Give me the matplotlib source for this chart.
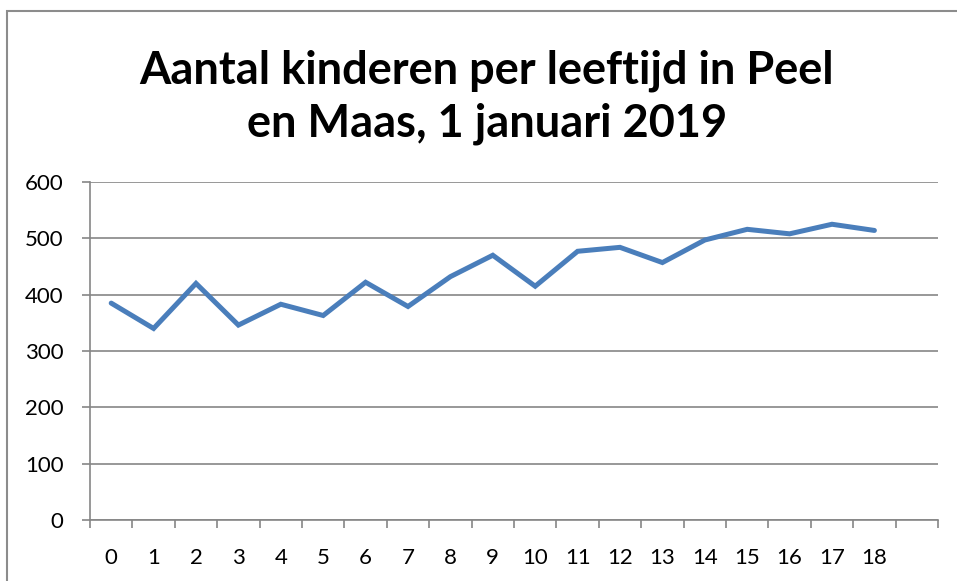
import matplotlib.pyplot as plt
from matplotlib.patches import Rectangle
from matplotlib.ticker import FixedLocator, NullFormatter

# leeftijden (categorieen); de laatste categorie is leeg in het origineel
age_labels = ["0", "1", "2", "3", "4", "5", "6", "7", "8", "9",
              "10", "11", "12", "13", "14", "15", "16", "17", "18", ""]
kinderen = [385, 340, 420, 346, 383, 363, 422, 379, 432, 470,
            415, 477, 484, 457, 497, 516, 508, 525, 514]
y_ticks = [0, 100, 200, 300, 400, 500, 600]

title = "Aantal kinderen per leeftijd in Peel\nen Maas, 1 januari 2019"

line_color = "#4A7EBB"
grid_color = "#868686"
font = ["Lato", "DejaVu Sans"]

fig = plt.figure(figsize=(9.57, 5.81), dpi=100)
W, H = 957, 581
ax = fig.add_axes([90 / W, 1 - 520 / H, 848 / W, 338 / H])

# chart frame (extends past right and bottom edge of the image)
fig.patches.append(Rectangle((7 / W, -0.05), 1.0, 1 - 11 / H + 0.05,
                             transform=fig.transFigure, fill=False,
                             edgecolor="#8C8C8C", linewidth=1.5))

n_slots = len(age_labels)
centers = [i + 0.5 for i in range(len(kinderen))]
ax.plot(centers, kinderen, color=line_color, linewidth=3.6,
        solid_joinstyle="miter", solid_capstyle="round", zorder=3)

ax.set_xlim(0, n_slots)
ax.set_ylim(0, 600)

# y axis + gridlines
ax.set_yticks(y_ticks)
ax.set_yticklabels([str(v) for v in y_ticks], fontsize=16, family=font)
ax.yaxis.grid(True, color=grid_color, linewidth=1.2)
ax.set_axisbelow(True)

# x axis: tick marks on slot boundaries, labels in the slot centers
ax.xaxis.set_major_locator(FixedLocator(range(n_slots + 1)))
ax.xaxis.set_major_formatter(NullFormatter())
ax.xaxis.set_minor_locator(FixedLocator([i + 0.5 for i in range(n_slots)]))
ax.set_xticklabels(age_labels, minor=True, fontsize=16, family=font)
ax.tick_params(axis="x", which="minor", length=0, pad=20)
ax.tick_params(axis="x", which="major", length=6, width=1.2, color=grid_color)
ax.tick_params(axis="y", length=6, width=1.2, color=grid_color, pad=13)

for side in ["top", "right"]:
    ax.spines[side].set_visible(False)
for side in ["left", "bottom"]:
    ax.spines[side].set_color(grid_color)
    ax.spines[side].set_linewidth(1.2)

fig.text(487 / W, 1 - 97 / H, title, ha="center", va="center",
         fontsize=32.5, fontweight="bold", family=font, linespacing=1.32)

plt.savefig("out.png", dpi=100)
plt.close()
